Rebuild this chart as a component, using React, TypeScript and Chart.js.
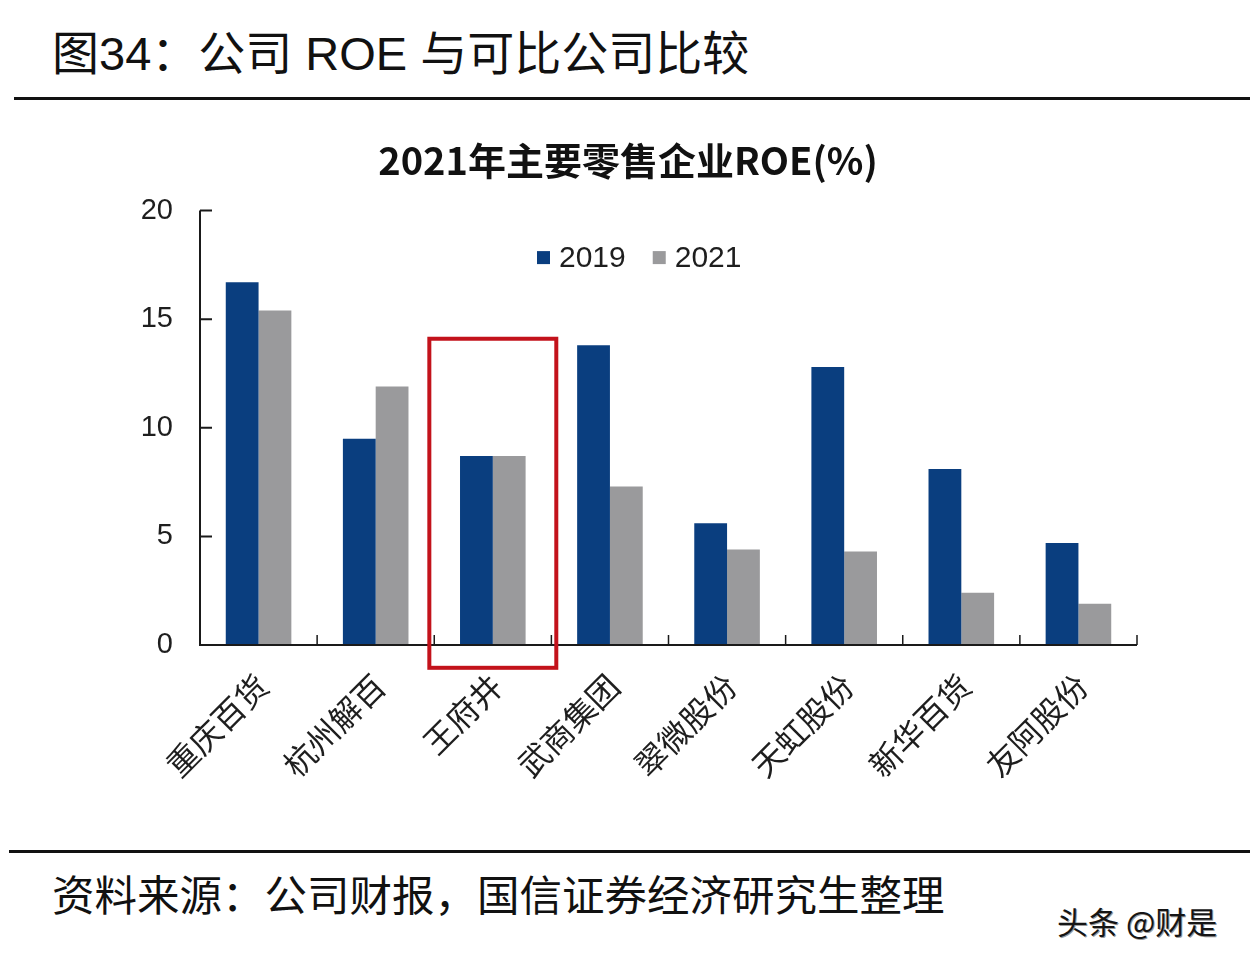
import React, { useEffect, useRef } from "react";
import { Chart, registerables } from "chart.js";

Chart.register(...registerables);

// ---- data ----
const categories = ["重庆百货", "杭州解百", "王府井", "武商集团", "翠微股份", "天虹股份", "新华百货", "友阿股份"];
const seriesLabels = ["2019", "2021"];
const roe2019 = [16.7, 9.5, 8.7, 13.8, 5.6, 12.8, 8.1, 4.7];
const roe2021 = [15.4, 11.9, 8.7, 7.3, 4.4, 4.3, 2.4, 1.9];
const yMin = 0;
const yMax = 20;
const yStep = 5;
const highlightIndex = 2; // 王府井
const highlightTop = 14.1;
const highlightBottom = -1.05;

const chartTitle = "2021年主要零售企业ROE(%)";
const headerText = "图34：公司 ROE 与可比公司比较";
const sourceText = "资料来源：公司财报，国信证券经济研究生整理";
const watermarkText = "头条 @财是";

const COLORS = ["#0a3e7f", "#9a9a9c"];
const AXIS_COLOR = "#1a1a1a";
const TEXT_COLOR = "#1e1e1e";
const LATIN = "'Liberation Sans', Arial, sans-serif";
const CJK = "'Liberation Sans', 'Noto Sans CJK SC', sans-serif";

const axesPlugin = {
  id: "innerAxes",
  afterDatasetsDraw(chart: any) {
    const { ctx, chartArea, scales } = chart;
    const xs = scales.x;
    const ys = scales.y;
    const left = chartArea.left;
    const y0 = ys.getPixelForValue(yMin);
    const yTop = ys.getPixelForValue(yMax);
    ctx.save();
    ctx.strokeStyle = AXIS_COLOR;
    ctx.lineWidth = 2;
    ctx.beginPath();
    ctx.moveTo(left, yTop);
    ctx.lineTo(left, y0);
    ctx.lineTo(chartArea.right, y0);
    ctx.stroke();
    // y ticks (inward)
    ctx.beginPath();
    ys.ticks.forEach((t: any) => {
      const py = ys.getPixelForValue(t.value);
      ctx.moveTo(left, py);
      ctx.lineTo(left + 12, py);
    });
    ctx.stroke();
    // x ticks at category boundaries (inward)
    ctx.lineWidth = 1.5;
    ctx.beginPath();
    const n = categories.length;
    for (let i = 0; i < n; i++) {
      const px = i < n - 1 ? (xs.getPixelForValue(i) + xs.getPixelForValue(i + 1)) / 2 : chartArea.right;
      ctx.moveTo(px, y0);
      ctx.lineTo(px, y0 - 10);
    }
    ctx.stroke();
    ctx.restore();
  },
};

const legendPlugin = {
  id: "innerLegend",
  afterDatasetsDraw(chart: any) {
    const { ctx, chartArea } = chart;
    let x = chartArea.left + 337;
    const cy = chartArea.top + 47;
    ctx.save();
    ctx.font = `30px ${LATIN}`;
    ctx.textBaseline = "middle";
    ctx.textAlign = "left";
    chart.data.datasets.forEach((ds: any) => {
      ctx.fillStyle = ds.backgroundColor;
      ctx.fillRect(x, cy - 6.5, 13, 13);
      x += 13 + 9;
      ctx.fillStyle = TEXT_COLOR;
      ctx.fillText(ds.label, x, cy + 1);
      x += ctx.measureText(ds.label).width + 27;
    });
    ctx.restore();
  },
};

const highlightPlugin = {
  id: "highlightBox",
  afterDraw(chart: any) {
    const { ctx, scales } = chart;
    const xs = scales.x;
    const ys = scales.y;
    const cw = xs.getPixelForValue(1) - xs.getPixelForValue(0);
    const cx = xs.getPixelForValue(highlightIndex);
    const half = cw * 0.542;
    const top = ys.getPixelForValue(highlightTop);
    const bottom = ys.getPixelForValue(highlightBottom);
    ctx.save();
    ctx.strokeStyle = "#c3121b";
    ctx.lineWidth = 4;
    ctx.strokeRect(cx - half, top, half * 2, bottom - top);
    ctx.restore();
  },
};

function BarChart() {
  const ref = useRef<HTMLCanvasElement | null>(null);
  useEffect(() => {
    if (!ref.current) return;
    const chart = new Chart(ref.current, {
      type: "bar",
      data: {
        labels: categories,
        datasets: [
          { label: seriesLabels[0], data: roe2019, backgroundColor: COLORS[0], borderWidth: 0, barPercentage: 1, categoryPercentage: 0.56 },
          { label: seriesLabels[1], data: roe2021, backgroundColor: COLORS[1], borderWidth: 0, barPercentage: 1, categoryPercentage: 0.56 },
        ],
      },
      options: {
        responsive: false,
        animation: false,
        devicePixelRatio: 1,
        layout: { padding: { left: 0, right: 113, top: 0, bottom: 0 } },
        plugins: {
          legend: { display: false },
          tooltip: { enabled: false },
          title: {
            display: true,
            text: chartTitle,
            color: "#111",
            font: { family: "'Noto Sans CJK SC', sans-serif", size: 38, weight: "bold" },
            padding: { top: 28, bottom: 27 },
          },
        },
        scales: {
          x: {
            type: "category",
            grid: { display: false, drawTicks: false },
            border: { display: false },
            ticks: {
              autoSkip: false,
              minRotation: 45,
              maxRotation: 45,
              padding: 24,
              labelOffset: 6,
              color: TEXT_COLOR,
              font: { family: CJK, size: 32 },
            },
            afterFit: (s: any) => {
              s.height = 200;
            },
          },
          y: {
            min: yMin,
            max: yMax,
            grid: { display: false, drawTicks: false },
            border: { display: false },
            ticks: {
              stepSize: yStep,
              padding: 27,
              color: TEXT_COLOR,
              font: { family: LATIN, size: 29 },
            },
            afterFit: (s: any) => {
              s.width = 81;
            },
          },
        },
      },
      plugins: [axesPlugin, legendPlugin, highlightPlugin],
    } as any);
    return () => chart.destroy();
  }, []);
  return (
    <canvas
      ref={ref}
      width={1131}
      height={735}
      style={{ position: "absolute", left: 119, top: 110, width: 1131, height: 735 }}
    />
  );
}

export default function App() {
  return (
    <div style={{ position: "absolute", left: 0, top: 0, width: 1250, height: 966, background: "#fff", overflow: "hidden" }}>
      <div
        style={{
          position: "absolute",
          left: 52,
          top: 24,
          height: 60,
          lineHeight: "60px",
          fontSize: 47,
          fontFamily: CJK,
          color: "#111",
          whiteSpace: "nowrap",
        }}
      >
        {headerText}
      </div>
      <div style={{ position: "absolute", left: 14, top: 97, width: 1236, height: 2.5, background: "#111" }} />
      <BarChart />
      <div style={{ position: "absolute", left: 9, top: 850, width: 1241, height: 2.5, background: "#111" }} />
      <div
        style={{
          position: "absolute",
          left: 52,
          top: 872,
          height: 50,
          lineHeight: "50px",
          fontSize: 42.5,
          fontFamily: CJK,
          color: "#111",
          whiteSpace: "nowrap",
        }}
      >
        {sourceText}
      </div>
      <div
        style={{
          position: "absolute",
          left: 1057,
          top: 902,
          height: 38,
          lineHeight: "38px",
          fontSize: 31,
          fontFamily: "'Noto Sans CJK SC', sans-serif",
          color: "#151515",
          textShadow: "1px 1px 0 #9a9a9a",
          whiteSpace: "nowrap",
        }}
      >
        {watermarkText}
      </div>
    </div>
  );
}
